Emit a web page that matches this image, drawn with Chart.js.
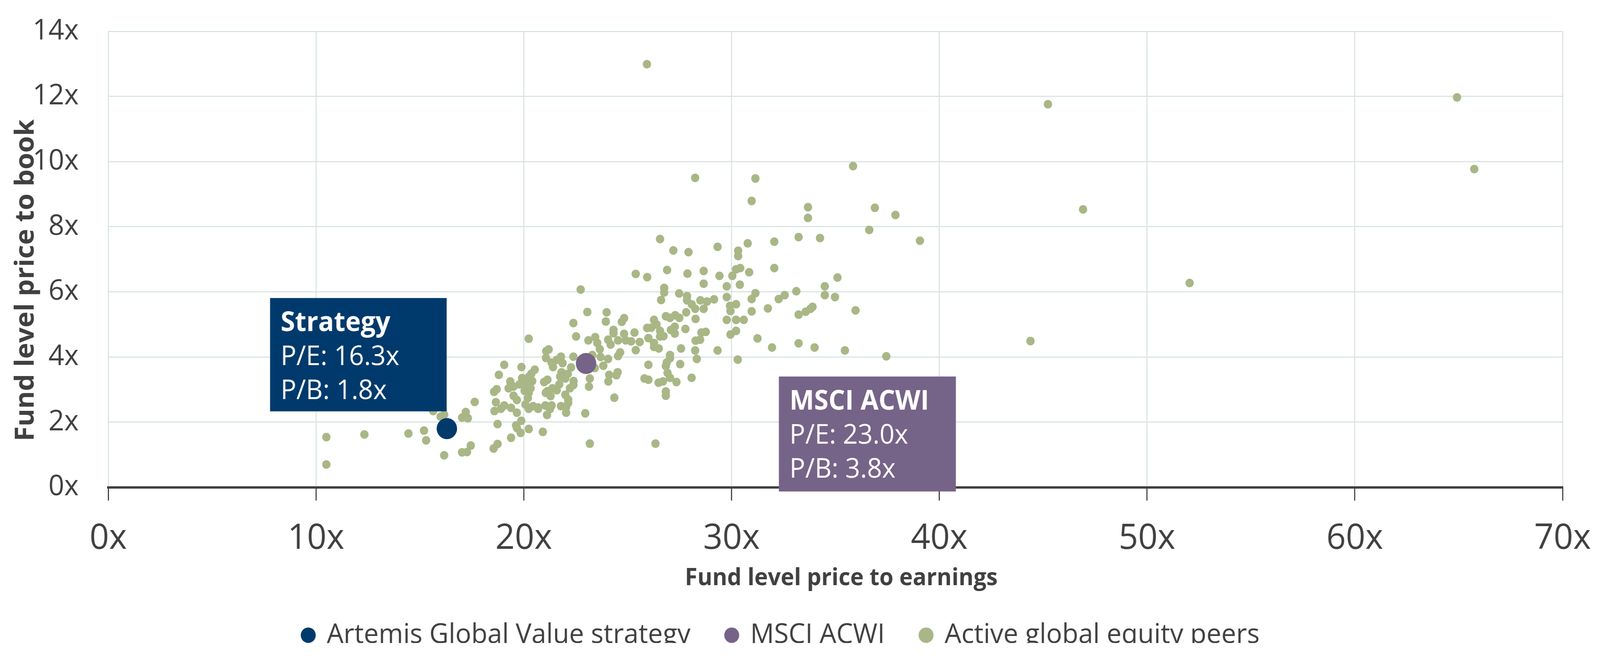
<!DOCTYPE html>
<html>
<head>
<meta charset="utf-8">
<script src="https://cdn.jsdelivr.net/npm/chart.js@4.4.1/dist/chart.umd.min.js"></script>
<style>
  html, body { margin: 0; padding: 0; background: #ffffff; overflow: hidden; }
  /* the chart is laid out on a 4229x1714 drawing surface and fitted to the window */
  canvas { display: block; width: 100vw !important; height: 100vh !important; }
</style>
</head>
<body>
<canvas id="c" width="4229" height="1714"></canvas>
<script>
// ---------------- DATA ----------------
const seriesNames = ['Artemis Global Value strategy', 'MSCI ACWI', 'Active global equity peers'];

const strategyPE = [16.3];
const strategyPB = [1.8];

const acwiPE = [23.0];
const acwiPB = [3.8];

// Active global equity peers: P/E (x) and P/B (y)
const peersPE = [
  10.5, 10.5, 12.33, 14.45,
  26.56, 27.2, 26.9, 25.39, 25.94, 26.76, 26.76, 26.61, 27.48, 22.74,
  23.06, 23.99, 23.95, 22.39, 24.72, 24.83, 26.27, 26.84, 27.04, 27.29,
  27.49, 22.52, 23.44, 23.11, 23.54, 23.66, 24.32, 24.32, 24.06, 24.18,
  24.54, 24.83, 24.91, 25.17, 25.33, 25.58, 25.39, 26.0, 25.94, 26.14,
  26.39, 26.56, 26.56, 26.73, 26.27, 26.27, 26.5, 27.08, 27.27, 27.27,
  27.57, 24.64, 24.54, 24.06, 23.7, 23.3, 23.83, 23.42, 27.04, 27.04,
  26.88, 26.84, 26.0, 27.53, 26.92, 27.04, 27.35, 25.81, 26.0, 26.49,
  26.7, 26.84, 26.84, 24.52, 24.46, 24.11, 24.07, 23.18, 23.14, 24.36,
  22.96, 23.18, 26.34, 22.39, 22.28, 21.79, 21.87, 21.59, 21.41, 21.34,
  21.2, 21.08, 21.07, 21.82, 21.75, 22.12, 22.0, 22.4, 22.39, 22.22,
  21.71, 21.14, 20.98, 21.38, 21.59, 21.14, 21.06, 21.29, 22.0, 22.14,
  22.14, 22.04, 21.79, 22.04, 21.34, 21.04, 20.69, 21.12, 20.53, 20.37,
  20.24, 19.89, 19.92, 19.8, 20.08, 20.41, 20.16, 20.33, 20.04, 20.24,
  20.2, 20.08, 20.24, 20.45, 20.69, 20.24, 19.88, 19.63, 19.67, 19.85,
  20.24, 20.92, 19.39, 19.06, 18.8, 19.35, 19.51, 19.27, 19.51, 19.67,
  19.67, 19.39, 19.06, 18.9, 18.66, 18.59, 18.7, 18.57, 18.74, 18.74,
  18.55, 17.64, 17.21, 17.31, 17.03, 17.45, 17.27, 17.03, 16.17, 16.17,
  16.0, 15.64, 15.2, 15.3, 21.26,
  28.25, 31.15, 35.85, 30.97, 33.68, 33.68, 36.9, 37.89, 36.63, 33.23,
  34.26, 39.07, 32.06, 30.78, 29.33, 27.93, 30.32, 30.32, 28.66, 27.88,
  29.42, 30.04, 30.22, 30.42, 30.85, 32.06, 35.1,
  28.66, 29.77, 30.4, 27.86, 27.86, 28.09, 28.25, 28.5, 28.82, 28.66,
  29.16, 29.77, 31.15, 30.97, 32.27, 32.56, 33.12, 34.49, 34.49, 34.98,
  29.93, 30.22, 29.95, 30.97, 31.75, 33.23, 33.57, 33.8, 33.9, 35.97,
  27.82, 28.27, 29.77, 30.22, 30.59, 27.78, 28.55, 28.76, 28.27, 28.49,
  29.95, 30.22, 31.25, 28.25, 28.33, 29.33, 31.95, 33.23, 34.0, 35.46,
  37.45, 30.3, 28.08,
  45.23, 64.92, 65.75, 46.92, 52.05, 44.39, 25.93
];
const peersPB = [
  1.54, 0.70, 1.62, 1.65,
  7.62, 7.27, 6.67, 6.55, 6.45, 6.12, 5.98, 5.75, 5.95, 6.07,
  5.38, 5.37, 5.09, 5.04, 5.08, 5.19, 5.14, 5.25, 5.2, 5.28,
  5.2, 4.63, 4.61, 4.51, 4.43, 4.24, 4.83, 4.73, 4.53, 4.38,
  4.51, 4.71, 4.51, 4.48, 4.75, 4.46, 4.21, 4.58, 4.89, 4.9,
  5.0, 4.8, 4.63, 4.64, 4.43, 4.31, 4.26, 4.83, 4.93, 4.72,
  4.26, 4.14, 4.03, 3.94, 4.0, 4.06, 3.73, 3.66, 4.06, 3.96,
  3.83, 3.72, 3.76, 3.78, 3.51, 3.36, 3.23, 3.34, 3.3, 3.21,
  3.25, 2.94, 2.81, 3.53, 3.44, 3.45, 3.25, 3.34, 3.09, 2.75,
  2.27, 1.34, 1.34, 4.01, 3.68, 4.01, 3.81, 3.91, 3.69, 3.83,
  4.23, 4.18, 3.97, 3.53, 3.4, 3.48, 3.34, 3.26, 3.14, 3.04,
  3.16, 3.3, 3.23, 3.04, 2.98, 2.95, 2.9, 2.8, 2.84, 2.69,
  2.59, 2.46, 2.49, 2.29, 2.51, 2.51, 2.41, 2.22, 3.61, 3.49,
  3.39, 3.69, 3.35, 3.16, 3.26, 3.26, 3.06, 3.04, 2.96, 2.9,
  2.74, 2.54, 2.41, 2.49, 2.45, 4.56, 2.04, 1.9, 1.82, 1.67,
  1.79, 1.7, 1.52, 3.76, 3.45, 3.25, 3.09, 3.04, 2.81, 2.68,
  2.29, 2.44, 2.51, 2.41, 2.61, 2.34, 3.01, 2.93, 1.94, 1.33,
  1.19, 2.62, 2.31, 2.12, 2.14, 1.28, 1.08, 1.07, 0.98, 2.23,
  2.17, 2.34, 1.74, 1.44, 2.4,
  9.5, 9.48, 9.86, 8.79, 8.6, 8.27, 8.58, 8.36, 7.9, 7.68,
  7.65, 7.57, 7.54, 7.49, 7.38, 7.22, 7.26, 7.1, 6.64, 6.56,
  6.49, 6.49, 6.69, 6.73, 6.6, 6.73, 6.44,
  6.25, 6.17, 6.22, 5.87, 5.74, 5.61, 5.48, 5.74, 5.7, 5.48,
  5.77, 5.84, 5.96, 5.78, 5.78, 5.9, 6.02, 6.17, 5.9, 5.84,
  5.57, 5.62, 5.41, 5.4, 5.49, 5.3, 5.39, 5.48, 5.54, 5.43,
  5.37, 5.17, 5.14, 5.14, 5.14, 4.86, 4.75, 4.77, 4.5, 4.53,
  4.69, 4.8, 4.57, 4.2, 3.94, 4.2, 4.29, 4.42, 4.29, 4.2,
  4.02, 3.92, 3.36,
  11.76, 11.97, 9.77, 8.53, 6.27, 4.49, 12.99
];

const xTickLabels = ['0x', '10x', '20x', '30x', '40x', '50x', '60x', '70x'];
const yTickLabels = ['0x', '2x', '4x', '6x', '8x', '10x', '12x', '14x'];

const xTitle = 'Fund level price to earnings';
const yTitle = 'Fund level price to book';

// ---------------- STYLE ----------------
const FONT = "'Open Sans', 'Noto Sans', 'DejaVu Sans', sans-serif";
const TEXT = '#404040';
const GRID = '#dbe4e4';
const NAVY = '#003a6c';
const PURPLE = '#766388';
const GREEN = '#a9b686';
const NBSP = '\u00a0';

// Callout boxes (corners in data units)
const callouts = [
  { x0: 7.79, x1: 16.29, y0: 5.81, y1: 2.33, color: NAVY,
    lines: ['Strategy', 'P/E: ' + strategyPE[0].toFixed(1) + 'x', 'P/B: ' + strategyPB[0].toFixed(1) + 'x'] },
  { x0: 32.28, x1: 40.80, y0: 3.40, y1: -0.13, color: PURPLE,
    lines: ['MSCI ACWI', 'P/E: ' + acwiPE[0].toFixed(1) + 'x', 'P/B: ' + acwiPB[0].toFixed(1) + 'x'] }
];

const calloutPlugin = {
  id: 'callouts',
  afterDraw(chart) {
    const ctx = chart.ctx;
    const xs = chart.scales.x, ys = chart.scales.y;
    ctx.save();
    callouts.forEach(c => {
      const l = xs.getPixelForValue(c.x0), r = xs.getPixelForValue(c.x1);
      const t = ys.getPixelForValue(c.y0), b = ys.getPixelForValue(c.y1);
      ctx.fillStyle = c.color;
      ctx.fillRect(l, t, r - l, b - t);
      ctx.fillStyle = '#ffffff';
      ctx.textAlign = 'left';
      ctx.textBaseline = 'alphabetic';
      c.lines.forEach((txt, i) => {
        ctx.font = (i === 0 ? 'bold ' : '') + '69px ' + FONT;
        ctx.fillText(txt, l + 28, t + 85 + i * 87);
      });
    });
    ctx.restore();
  }
};

const toXY = (xsArr, ysArr) => xsArr.map((v, i) => ({ x: v, y: ysArr[i] }));

new Chart(document.getElementById('c'), {
  type: 'scatter',
  data: {
    datasets: [
      { label: seriesNames[0], data: toXY(strategyPE, strategyPB), backgroundColor: NAVY, borderWidth: 0, pointRadius: 27, pointHoverRadius: 27 },
      { label: seriesNames[1], data: toXY(acwiPE, acwiPB), backgroundColor: PURPLE, borderWidth: 0, pointRadius: 27, pointHoverRadius: 27 },
      { label: seriesNames[2], data: toXY(peersPE, peersPB), backgroundColor: GREEN, borderWidth: 0, pointRadius: 11, pointHoverRadius: 11 }
    ]
  },
  options: {
    responsive: false,
    devicePixelRatio: 1,
    animation: false,
    events: [],
    layout: { padding: { left: 0, right: 99, top: 80, bottom: 69 } },
    plugins: {
      tooltip: { enabled: false },
      legend: {
        position: 'bottom',
        maxHeight: 150,
        labels: {
          usePointStyle: true,
          pointStyle: 'circle',
          boxWidth: 28,
          boxHeight: 28,
          padding: 95,
          color: TEXT,
          font: { family: FONT, size: 70 }
        }
      }
    },
    scales: {
      x: {
        type: 'linear',
        min: 0, max: 70,
        afterFit(scale) { scale.height = 248.5; },
        ticks: {
          stepSize: 10,
          padding: 0,
          color: TEXT,
          font: { family: FONT, size: 90, lineHeight: 2.167 },
          maxRotation: 0,
          callback: (v) => xTickLabels[Math.round(v / 10)]
        },
        grid: {
          color: GRID,
          lineWidth: 3,
          drawTicks: true,
          tickLength: 34,
          tickColor: TEXT,
          tickWidth: 3
        },
        border: { display: true, color: TEXT, width: 6 },
        title: {
          display: true,
          text: NBSP + NBSP + xTitle,
          color: TEXT,
          font: { family: FONT, size: 60, weight: 'bold', lineHeight: 1 },
          padding: { top: 0, bottom: -15 }
        }
      },
      y: {
        type: 'linear',
        min: 0, max: 14,
        afterFit(scale) { scale.width = 286; },
        ticks: {
          stepSize: 2,
          padding: 0,
          color: TEXT,
          font: { family: FONT, size: 73 },
          callback: (v) => yTickLabels[Math.round(v / 2)]
        },
        grid: { color: GRID, lineWidth: 3, drawTicks: true, tickLength: 78, tickColor: 'rgba(0,0,0,0)' },
        border: { display: false },
        title: {
          display: true,
          text: yTitle + NBSP.repeat(6),
          color: TEXT,
          font: { family: FONT, size: 69, weight: 'bold', lineHeight: 1.2 },
          padding: { top: 28, bottom: 0 }
        }
      }
    }
  },
  plugins: [calloutPlugin]
});
</script>
</body>
</html>
